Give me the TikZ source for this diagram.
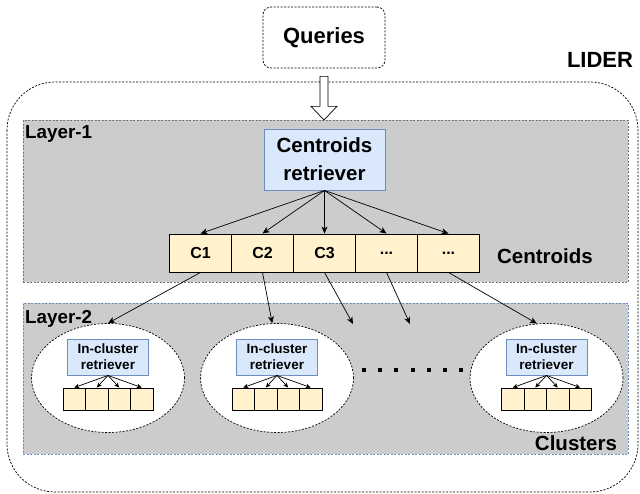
\documentclass[tikz,border=0pt]{standalone}
\usepackage{fontspec}
\setmainfont{Liberation Sans}
\usetikzlibrary{shapes.geometric,arrows.meta,calc}
\definecolor{retrfill}{HTML}{DAE8FC}
\definecolor{retrline}{HTML}{6C8EBF}
\definecolor{cellfill}{HTML}{FFF2CC}
\definecolor{layerfill}{HTML}{CCCCCC}
\newcommand{\celldots}{...}
\tikzset{
  dashline/.style={dash pattern=on 2pt off 1.5pt, line width=0.7pt},
  layer/.style={dashline, fill=layerfill, draw=black!55, inner sep=0pt, anchor=north west},
  retr/.style={draw=retrline, fill=retrfill, line width=0.9pt, align=center, inner sep=0pt},
  cell/.style={draw=black, fill=cellfill, line width=0.9pt, inner sep=0pt, font=\bfseries\fontsize{16}{16}\selectfont},
  clus/.style={ellipse, dashline, draw=black, fill=white, inner sep=0pt, minimum width=153pt, minimum height=109pt},
  tip/.style={-{Stealth[length=7pt,width=6pt,inset=2pt]}, line width=0.7pt},
  smalltip/.style={-{Stealth[length=5pt,width=4.5pt,inset=1.5pt]}, line width=0.7pt},
  lbl/.style={inner sep=0pt}
}
\begin{document}
\begin{tikzpicture}[x=1pt,y=-1pt]
  \useasboundingbox (0,0) rectangle (640,493);
  \fill[white] (0,0) rectangle (640,493);
  % outer frame
  \draw[dashline, rounded corners=48pt] (7,82) rectangle (638,492);
  \node[lbl, font=\bfseries\fontsize{22}{22}\selectfont] (lider) at (600,60) {LIDER};
  \node[dashline, draw, rounded corners=8pt, minimum width=122pt, minimum height=61pt,
    font=\bfseries\fontsize{22}{22}\selectfont] (qry) at (324,37.5) {Queries};

  % layers
  \node[layer, minimum width=605pt, minimum height=162pt] (lay1) at (23,120) {};
  \node[layer, draw=retrline, minimum width=605pt, minimum height=151pt] (lay2) at (23,303) {};
  \node[lbl, anchor=north west, font=\bfseries\fontsize{18.8}{18.8}\selectfont] (lay1lbl) at (25,125.5) {Layer-1};
  \node[lbl, anchor=north west, font=\bfseries\fontsize{18.8}{18.8}\selectfont] (lay2lbl) at (25,310.5) {Layer-2};
  \node[lbl, anchor=base, font=\bfseries\fontsize{20.5}{20.5}\selectfont] (centlbl) at (545,263) {Centroids};
  \node[lbl, anchor=base, font=\bfseries\fontsize{20.5}{20.5}\selectfont] (cluslbl) at (576,450) {Clusters};

  % hollow arrow
  \draw[fill=white, line width=0.7pt] ($(qry.south)+(-4,8)$) -- ($(qry.south)+(4,8)$)
    -- ($(qry.south)+(4,38)$) -- ($(qry.south)+(13,38)$) -- (qry.south |- lay1.north)
    -- ($(qry.south)+(-13,38)$) -- ($(qry.south)+(-4,38)$) -- cycle;

  % layer 1
  \node[retr, minimum width=121pt, minimum height=61pt, font=\bfseries\fontsize{20.5}{28}\selectfont]
    (cret) at (324.5,159.5) {Centroids\\retriever};
  \foreach \i/\t in {1/C1,2/C2,3/C3,4/\celldots,5/\celldots}
    \node[cell, minimum width=62pt, minimum height=38pt] (c\i) at ({138.5+62*\i},253) {\t};
  \foreach \i in {1,...,5}
    \draw[tip] (cret.south) -- (c\i.north);

  % layer 2
  \foreach \i/\x in {1/108,2/277,3/546.5} {
    \node[clus] (e\i) at (\x,378) {};
    \node[retr, minimum width=81pt, minimum height=36pt, font=\bfseries\fontsize{13.5}{16}\selectfont]
      (r\i) at (\x,357) {In-cluster\\retriever};
    \foreach \j in {1,...,4} {
      \node[cell, minimum width=22.5pt, minimum height=22pt] (s\i\j) at ({\x-56.25+22.5*\j},399) {};
      \draw[smalltip] (r\i.south) -- (s\i\j.north);
    }
  }
  \foreach \i in {0,...,6}
    \fill ({362+16.2*\i},368) rectangle ({366+16.2*\i},372);

  % centroids to clusters
  \coordinate (g3) at (353,324);
  \coordinate (g4) at (410,324);
  \draw[tip] (c1.south) -- (e1.north);
  \draw[tip] (c2.south) -- (e2.95);
  \draw[tip] (c3.south) -- (g3);
  \draw[tip] (c4.south) -- (g4);
  \draw[tip] (c5.south) -- (e3.100);
\end{tikzpicture}
\end{document}
